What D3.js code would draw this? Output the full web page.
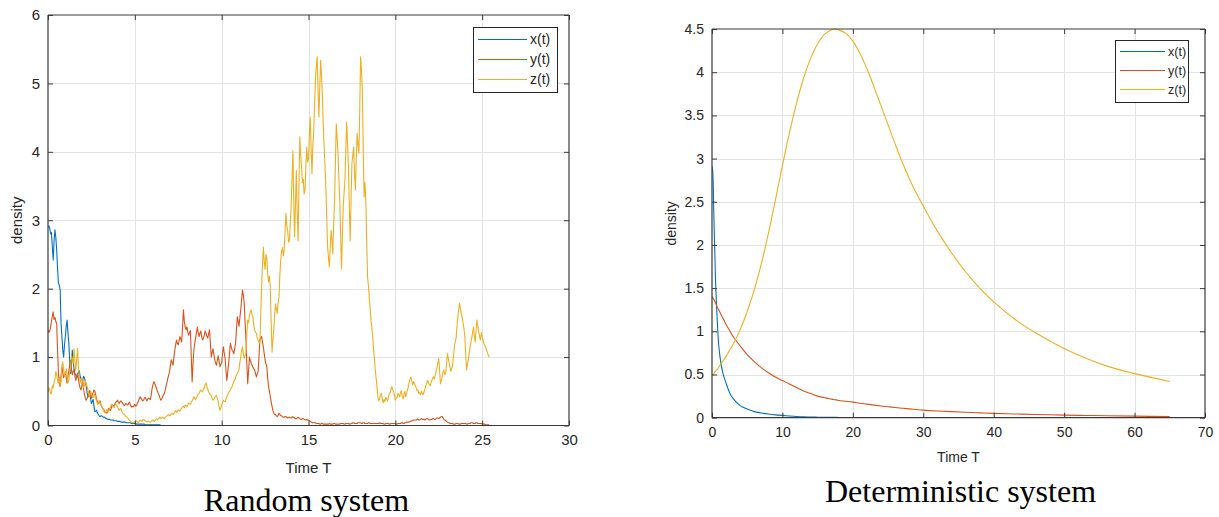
<!DOCTYPE html>
<html>
<head>
<meta charset="utf-8">
<script src="https://cdn.jsdelivr.net/npm/d3@7"></script>
<style>
  html, body { margin: 0; padding: 0; background: #ffffff; }
  svg { display: block; }
</style>
</head>
<body>
<svg id="chart" width="1219" height="517"></svg>
<script>
// ---------- Stochastic run: densities sampled every 0.05 time units (one row per unit) ----------
const randStep = 0.05;
const randX = [
  2.90, 2.92, 2.88, 2.80, 2.82, 2.60, 2.42, 2.70, 2.86, 2.75, 2.57, 2.30, 2.08, 2.05, 1.98, 1.50, 1.30, 1.10, 1.00, 1.18,
  1.30, 1.45, 1.54, 1.35, 1.20, 0.95, 0.76, 0.92, 1.10, 0.95, 0.82, 0.76, 0.74, 0.70, 0.71, 0.78, 0.80, 0.72, 0.68, 0.67,
  0.66, 0.72, 0.70, 0.64, 0.58, 0.48, 0.42, 0.46, 0.50, 0.40, 0.32, 0.35, 0.38, 0.28, 0.20, 0.21, 0.22, 0.18, 0.16, 0.14,
  0.13, 0.14, 0.14, 0.13, 0.12, 0.12, 0.11, 0.10, 0.10, 0.09, 0.09, 0.09, 0.08, 0.08, 0.08, 0.08, 0.07, 0.07, 0.07, 0.07,
  0.06, 0.06, 0.06, 0.06, 0.05, 0.05, 0.05, 0.05, 0.05, 0.05, 0.04, 0.04, 0.04, 0.04, 0.04, 0.04, 0.03, 0.03, 0.03, 0.03,
  0.03, 0.03, 0.02, 0.02, 0.02, 0.02, 0.02, 0.02, 0.02, 0.02, 0.02, 0.02, 0.01, 0.01, 0.01, 0.01, 0.01, 0.01, 0.01, 0.01,
  0.01, 0.01, 0.01, 0.01, 0.01, 0.01, 0.01, 0.01, 0.01, 0.01, 0, 0, 0, 0, 0, 0, 0, 0, 0, 0,
  0, 0, 0, 0, 0, 0, 0, 0, 0, 0, 0, 0, 0, 0, 0, 0, 0, 0, 0, 0,
  0, 0, 0, 0, 0, 0, 0, 0, 0, 0, 0, 0, 0, 0, 0, 0, 0, 0, 0, 0,
  0, 0, 0, 0, 0, 0, 0, 0, 0, 0, 0, 0, 0, 0, 0, 0, 0, 0, 0, 0,
  0, 0, 0, 0, 0, 0, 0, 0, 0, 0, 0, 0, 0, 0, 0, 0, 0, 0, 0, 0,
  0, 0, 0, 0, 0, 0, 0, 0, 0, 0, 0, 0, 0, 0, 0, 0, 0, 0, 0, 0,
  0, 0, 0, 0, 0, 0, 0, 0, 0, 0, 0, 0, 0, 0, 0, 0, 0, 0, 0, 0,
  0, 0, 0, 0, 0, 0, 0, 0, 0, 0, 0, 0, 0, 0, 0, 0, 0, 0, 0, 0,
  0, 0, 0, 0, 0, 0, 0, 0, 0, 0, 0, 0, 0, 0, 0, 0, 0, 0, 0, 0,
  0, 0, 0, 0, 0, 0, 0, 0, 0, 0, 0, 0, 0, 0, 0, 0, 0, 0, 0, 0,
  0, 0, 0, 0, 0, 0, 0, 0, 0, 0, 0, 0, 0, 0, 0, 0, 0, 0, 0, 0,
  0, 0, 0, 0, 0, 0, 0, 0, 0, 0, 0, 0, 0, 0, 0, 0, 0, 0, 0, 0,
  0, 0, 0, 0, 0, 0, 0, 0, 0, 0, 0, 0, 0, 0, 0, 0, 0, 0, 0, 0,
  0, 0, 0, 0, 0, 0, 0, 0, 0, 0, 0, 0, 0, 0, 0, 0, 0, 0, 0, 0,
  0, 0, 0, 0, 0, 0, 0, 0, 0, 0, 0, 0, 0, 0, 0, 0, 0, 0, 0, 0,
  0, 0, 0, 0, 0, 0, 0, 0, 0, 0, 0, 0, 0, 0, 0, 0, 0, 0, 0, 0,
  0, 0, 0, 0, 0, 0, 0, 0, 0, 0, 0, 0, 0, 0, 0, 0, 0, 0, 0, 0,
  0, 0, 0, 0, 0, 0, 0, 0, 0, 0, 0, 0, 0, 0, 0, 0, 0, 0, 0, 0,
  0, 0, 0, 0, 0, 0, 0, 0, 0, 0, 0, 0, 0, 0, 0, 0, 0, 0, 0, 0,
  0, 0, 0, 0, 0, 0, 0, 0, 0
];
const randY = [
  1.40, 1.36, 1.38, 1.45, 1.52, 1.60, 1.66, 1.55, 1.58, 1.52, 1.49, 1.10, 0.76, 0.62, 0.57, 0.72, 0.85, 0.78, 0.70, 0.74,
  0.78, 0.70, 0.62, 0.72, 0.80, 0.88, 0.95, 0.82, 0.74, 0.79, 0.82, 0.72, 0.66, 0.71, 0.76, 0.68, 0.60, 0.55, 0.52, 0.58,
  0.66, 0.54, 0.45, 0.40, 0.37, 0.40, 0.42, 0.47, 0.51, 0.44, 0.40, 0.45, 0.48, 0.52, 0.50, 0.44, 0.38, 0.35, 0.32, 0.34,
  0.36, 0.30, 0.27, 0.25, 0.24, 0.21, 0.20, 0.19, 0.18, 0.22, 0.25, 0.23, 0.22, 0.26, 0.30, 0.29, 0.28, 0.31, 0.34, 0.35,
  0.37, 0.34, 0.32, 0.35, 0.36, 0.34, 0.33, 0.30, 0.29, 0.31, 0.32, 0.31, 0.30, 0.33, 0.34, 0.30, 0.27, 0.28, 0.27, 0.29,
  0.31, 0.28, 0.29, 0.33, 0.35, 0.39, 0.42, 0.40, 0.38, 0.36, 0.37, 0.40, 0.41, 0.38, 0.36, 0.39, 0.40, 0.39, 0.38, 0.46,
  0.55, 0.60, 0.64, 0.61, 0.58, 0.54, 0.50, 0.47, 0.44, 0.40, 0.37, 0.39, 0.42, 0.45, 0.47, 0.52, 0.58, 0.63, 0.69, 0.74,
  0.78, 0.88, 0.96, 0.92, 0.88, 1.00, 1.10, 1.18, 1.25, 1.20, 1.18, 1.24, 1.30, 1.26, 1.22, 1.45, 1.69, 1.52, 1.44, 1.40,
  1.44, 1.36, 1.32, 1.36, 1.39, 1.00, 0.64, 0.90, 1.10, 1.20, 1.28, 1.36, 1.44, 1.36, 1.30, 1.35, 1.38, 1.30, 1.25, 1.28,
  1.32, 1.38, 1.35, 1.30, 1.28, 1.34, 1.40, 1.20, 1.00, 1.06, 1.12, 1.04, 0.96, 0.92, 0.88, 0.95, 1.02, 0.94, 0.86, 0.89,
  0.92, 1.05, 1.15, 1.06, 0.98, 0.80, 0.66, 0.78, 0.90, 1.05, 1.20, 1.15, 1.10, 1.08, 1.05, 1.12, 1.20, 1.40, 1.59, 1.52,
  1.45, 1.58, 1.69, 1.85, 1.98, 1.90, 1.78, 1.50, 1.25, 0.90, 0.61, 0.80, 1.00, 0.95, 0.91, 0.88, 0.85, 0.83, 0.81, 0.76,
  0.71, 0.75, 0.79, 1.02, 1.25, 1.28, 1.30, 1.22, 1.15, 1.05, 0.96, 0.90, 0.86, 0.70, 0.57, 0.50, 0.42, 0.35, 0.28, 0.22,
  0.18, 0.16, 0.16, 0.14, 0.13, 0.15, 0.18, 0.16, 0.15, 0.14, 0.13, 0.12, 0.12, 0.13, 0.13, 0.12, 0.11, 0.12, 0.12, 0.11,
  0.11, 0.12, 0.13, 0.12, 0.11, 0.10, 0.10, 0.11, 0.12, 0.11, 0.10, 0.09, 0.09, 0.10, 0.10, 0.09, 0.08, 0.08, 0.09, 0.08,
  0.08, 0.07, 0.06, 0.05, 0.05, 0.04, 0.04, 0.04, 0.04, 0.03, 0.03, 0.03, 0.03, 0.02, 0.02, 0.03, 0.03, 0.02, 0.02, 0.02,
  0.02, 0.02, 0.02, 0.02, 0.03, 0.02, 0.02, 0.02, 0.02, 0.03, 0.03, 0.02, 0.02, 0.02, 0.02, 0.02, 0.02, 0.03, 0.03, 0.03,
  0.03, 0.02, 0.02, 0.03, 0.03, 0.03, 0.03, 0.02, 0.02, 0.03, 0.03, 0.04, 0.04, 0.03, 0.03, 0.03, 0.03, 0.04, 0.04, 0.04,
  0.04, 0.03, 0.03, 0.04, 0.04, 0.03, 0.03, 0.03, 0.03, 0.04, 0.04, 0.03, 0.03, 0.03, 0.03, 0.03, 0.03, 0.03, 0.03, 0.03,
  0.03, 0.03, 0.04, 0.03, 0.03, 0.03, 0.03, 0.02, 0.02, 0.03, 0.03, 0.03, 0.03, 0.02, 0.02, 0.03, 0.03, 0.03, 0.03, 0.03,
  0.03, 0.02, 0.02, 0.03, 0.03, 0.03, 0.03, 0.04, 0.04, 0.03, 0.03, 0.04, 0.04, 0.05, 0.05, 0.05, 0.05, 0.06, 0.06, 0.07,
  0.07, 0.08, 0.08, 0.08, 0.08, 0.09, 0.09, 0.08, 0.08, 0.09, 0.10, 0.09, 0.09, 0.09, 0.08, 0.09, 0.10, 0.10, 0.09, 0.08,
  0.08, 0.09, 0.09, 0.10, 0.10, 0.09, 0.09, 0.10, 0.11, 0.11, 0.10, 0.11, 0.12, 0.13, 0.13, 0.11, 0.09, 0.08, 0.07, 0.06,
  0.05, 0.04, 0.04, 0.03, 0.03, 0.03, 0.03, 0.02, 0.02, 0.02, 0.03, 0.03, 0.03, 0.02, 0.02, 0.02, 0.03, 0.03, 0.03, 0.03,
  0.03, 0.03, 0.02, 0.02, 0.03, 0.03, 0.03, 0.04, 0.04, 0.04, 0.03, 0.03, 0.03, 0.04, 0.04, 0.03, 0.03, 0.03, 0.03, 0.03,
  0.02, 0.02, 0.02, 0.02, 0.01, 0.01, 0.01, 0.01, 0.01
];
const randZ = [
  0.49, 0.55, 0.52, 0.46, 0.47, 0.58, 0.55, 0.63, 0.68, 0.79, 0.74, 0.66, 0.62, 0.71, 0.58, 0.64, 0.88, 0.93, 0.82, 0.72,
  0.76, 0.83, 0.70, 0.62, 0.66, 0.78, 0.85, 1.02, 0.98, 0.90, 1.12, 0.95, 0.80, 0.96, 1.13, 0.88, 0.71, 0.66, 0.62, 0.70,
  0.64, 0.55, 0.58, 0.66, 0.62, 0.57, 0.52, 0.46, 0.42, 0.50, 0.47, 0.43, 0.40, 0.46, 0.44, 0.39, 0.36, 0.31, 0.33, 0.36,
  0.32, 0.30, 0.28, 0.25, 0.22, 0.19, 0.18, 0.22, 0.24, 0.20, 0.21, 0.25, 0.27, 0.31, 0.30, 0.27, 0.26, 0.29, 0.32, 0.30,
  0.28, 0.25, 0.22, 0.24, 0.25, 0.21, 0.18, 0.17, 0.16, 0.14, 0.13, 0.12, 0.11, 0.09, 0.08, 0.06, 0.05, 0.04, 0.04, 0.05,
  0.05, 0.06, 0.07, 0.05, 0.04, 0.06, 0.08, 0.07, 0.06, 0.08, 0.09, 0.08, 0.07, 0.06, 0.05, 0.06, 0.06, 0.05, 0.05, 0.06,
  0.07, 0.08, 0.06, 0.07, 0.09, 0.10, 0.08, 0.10, 0.11, 0.12, 0.10, 0.11, 0.12, 0.11, 0.10, 0.12, 0.13, 0.14, 0.15, 0.16,
  0.14, 0.15, 0.17, 0.18, 0.16, 0.18, 0.20, 0.22, 0.19, 0.21, 0.23, 0.22, 0.21, 0.24, 0.25, 0.27, 0.28, 0.26, 0.30, 0.29,
  0.27, 0.30, 0.33, 0.32, 0.31, 0.34, 0.36, 0.39, 0.42, 0.40, 0.38, 0.41, 0.43, 0.46, 0.47, 0.50, 0.52, 0.50, 0.49, 0.53,
  0.55, 0.60, 0.62, 0.57, 0.53, 0.49, 0.47, 0.45, 0.44, 0.40, 0.37, 0.39, 0.40, 0.43, 0.44, 0.40, 0.36, 0.28, 0.22, 0.26,
  0.30, 0.34, 0.37, 0.35, 0.35, 0.39, 0.42, 0.45, 0.48, 0.50, 0.52, 0.55, 0.57, 0.61, 0.64, 0.67, 0.70, 0.74, 0.76, 0.79,
  0.82, 0.93, 1.00, 1.10, 1.15, 1.04, 0.98, 1.02, 1.06, 1.35, 1.54, 1.50, 1.61, 1.66, 1.69, 1.62, 1.58, 1.46, 1.39, 1.36,
  1.35, 1.28, 1.25, 1.22, 1.20, 1.62, 2.03, 2.35, 2.61, 2.40, 2.28, 2.50, 2.45, 2.22, 2.10, 2.18, 2.03, 1.50, 1.07, 1.25,
  1.40, 1.62, 1.78, 1.70, 1.64, 1.80, 1.88, 2.20, 2.42, 2.55, 2.60, 2.48, 2.55, 2.85, 3.10, 2.92, 2.85, 2.68, 2.70, 2.95,
  3.20, 3.60, 4.02, 3.30, 2.76, 3.25, 3.73, 3.10, 2.70, 3.50, 4.22, 3.95, 3.78, 3.55, 3.60, 3.38, 3.44, 3.80, 4.07, 3.85,
  3.90, 4.25, 4.51, 4.05, 3.68, 4.10, 4.30, 4.70, 5.05, 5.25, 5.39, 4.90, 4.51, 4.95, 5.34, 5.10, 4.83, 4.40, 4.07, 3.80,
  3.49, 3.05, 2.61, 2.45, 2.32, 2.60, 2.85, 2.70, 2.51, 2.95, 3.29, 3.85, 4.41, 4.20, 3.98, 3.60, 3.29, 2.80, 2.29, 2.75,
  3.20, 3.40, 3.59, 4.05, 4.44, 4.10, 3.78, 3.20, 2.70, 3.30, 3.83, 3.95, 4.07, 3.70, 3.44, 3.90, 4.27, 4.10, 3.98, 4.60,
  5.39, 5.20, 4.90, 4.10, 3.34, 3.55, 3.29, 2.70, 2.17, 2.05, 1.88, 1.70, 1.54, 1.42, 1.30, 1.10, 0.96, 0.80, 0.68, 0.55,
  0.42, 0.36, 0.40, 0.45, 0.47, 0.39, 0.33, 0.38, 0.35, 0.41, 0.39, 0.36, 0.42, 0.46, 0.48, 0.53, 0.57, 0.52, 0.50, 0.44,
  0.37, 0.40, 0.41, 0.47, 0.45, 0.42, 0.48, 0.51, 0.42, 0.39, 0.46, 0.50, 0.42, 0.47, 0.52, 0.57, 0.63, 0.68, 0.71, 0.65,
  0.59, 0.64, 0.62, 0.58, 0.55, 0.51, 0.52, 0.47, 0.48, 0.45, 0.50, 0.47, 0.45, 0.49, 0.53, 0.58, 0.61, 0.66, 0.64, 0.60,
  0.58, 0.62, 0.66, 0.69, 0.71, 0.68, 0.74, 0.79, 0.85, 0.92, 0.98, 0.80, 0.61, 0.66, 0.72, 0.78, 0.81, 0.75, 0.76, 0.90,
  1.05, 0.98, 0.92, 0.85, 0.79, 0.84, 0.88, 1.02, 1.15, 1.22, 1.28, 1.45, 1.59, 1.70, 1.79, 1.70, 1.64, 1.58, 1.50, 1.42,
  1.30, 1.05, 0.81, 0.90, 0.95, 1.05, 1.15, 1.22, 1.28, 1.36, 1.44, 1.30, 1.22, 1.40, 1.54, 1.45, 1.38, 1.30, 1.25, 1.36,
  1.30, 1.25, 1.20, 1.17, 1.14, 1.10, 1.07, 1.03, 1.00
];

// ---------- Deterministic run: densities at the listed times ----------
const detTime = [
  0, 0.1, 0.25, 0.5, 0.75, 1, 1.5, 2, 2.5, 3,
  4, 5, 6, 7, 8, 9, 10, 11, 12, 13,
  14, 15, 16, 17, 17.5, 18, 19, 20, 21, 22,
  23, 24, 25, 26, 27, 28, 29, 30, 32, 34,
  36, 38, 40, 43, 46, 50, 53, 56, 60, 65
];
const detX = [
  2.91, 2.86, 2.40, 1.60, 1.12, 0.80, 0.53, 0.40, 0.29, 0.22,
  0.14, 0.10, 0.07, 0.055, 0.042, 0.033, 0.027, 0.020, 0.014, 0.010,
  0.008, 0.006, 0.005, 0.004, 0.004, 0.003, 0.003, 0.002, 0.002, 0.002,
  0.001, 0.001, 0.001, 0, 0, 0, 0, 0, 0, 0,
  0, 0, 0, 0, 0, 0, 0, 0, 0, 0
];
const detY = [
  1.41, 1.39, 1.37, 1.33, 1.28, 1.24, 1.16, 1.08, 1.01, 0.94,
  0.83, 0.73, 0.65, 0.58, 0.52, 0.47, 0.43, 0.39, 0.35, 0.31,
  0.28, 0.25, 0.23, 0.215, 0.207, 0.20, 0.19, 0.18, 0.168, 0.157,
  0.146, 0.136, 0.127, 0.118, 0.110, 0.102, 0.095, 0.088, 0.078, 0.070,
  0.063, 0.056, 0.050, 0.043, 0.037, 0.030, 0.026, 0.022, 0.018, 0.013
];
const detZ = [
  0.49, 0.50, 0.51, 0.54, 0.56, 0.59, 0.65, 0.71, 0.78, 0.85,
  1.02, 1.23, 1.48, 1.78, 2.13, 2.52, 2.92, 3.30, 3.64, 3.93,
  4.16, 4.33, 4.44, 4.49, 4.50, 4.49, 4.45, 4.36, 4.22, 4.04,
  3.83, 3.61, 3.39, 3.17, 2.96, 2.77, 2.60, 2.45, 2.16, 1.91,
  1.69, 1.50, 1.34, 1.14, 0.98, 0.80, 0.69, 0.60, 0.51, 0.42
];

// ---------- Labels and ticks ----------
const seriesNames = ["x(t)", "y(t)", "z(t)"];
const seriesColors = ["#0072BD", "#D95319", "#EDB120"];
const randXTicks = [0, 5, 10, 15, 20, 25, 30];
const randYTicks = [0, 1, 2, 3, 4, 5, 6];
const detXTicks = [0, 10, 20, 30, 40, 50, 60, 70];
const detYTicks = [0, 0.5, 1, 1.5, 2, 2.5, 3, 3.5, 4, 4.5];
const xTitle = "Time T";
const yTitle = "density";
const captions = ["Random system", "Deterministic system"];

const svg = d3.select("#chart");
const sansFont = "'Liberation Sans', Arial, Helvetica, sans-serif";
const serifFont = "'Liberation Serif', 'Times New Roman', serif";

function drawPanel(cfg) {
  const { id, left, right, top, bottom, xDomain, yDomain, xTicks, yTicks,
          series, legendBox, curve, tickFont, legendFont, yTitleX, xTitleY,
          caption, captionY } = cfg;
  const x = d3.scaleLinear().domain(xDomain).range([left, right]);
  const y = d3.scaleLinear().domain(yDomain).range([bottom, top]);
  const g = svg.append("g");

  // grid
  const grid = g.append("g").attr("stroke", "#e3e3e3").attr("stroke-width", 1);
  xTicks.forEach(t => {
    if (t === xDomain[0] || t === xDomain[1]) return;
    grid.append("line").attr("x1", Math.round(x(t)) + 0.5).attr("x2", Math.round(x(t)) + 0.5)
      .attr("y1", top).attr("y2", bottom);
  });
  yTicks.forEach(t => {
    if (t === yDomain[0] || t === yDomain[1]) return;
    grid.append("line").attr("y1", Math.round(y(t)) + 0.5).attr("y2", Math.round(y(t)) + 0.5)
      .attr("x1", left).attr("x2", right);
  });

  // data lines
  svg.append("clipPath").attr("id", id + "-clip")
    .append("rect").attr("x", left).attr("y", top - 1)
    .attr("width", right - left).attr("height", bottom - top + 1);
  const lines = g.append("g").attr("clip-path", `url(#${id}-clip)`);
  series.forEach((s, i) => {
    const line = d3.line().x(d => x(d[0])).y(d => y(d[1])).curve(curve);
    lines.append("path")
      .attr("d", line(s))
      .attr("fill", "none")
      .attr("stroke", seriesColors[i])
      .attr("stroke-width", 1.1)
      .attr("stroke-linejoin", "round");
  });

  // axes: bottom/left with labels, top/right as mirrored box, ticks pointing in
  const tl = 5;
  const axB = d3.axisBottom(x).tickValues(xTicks).tickSize(-tl).tickPadding(9).tickFormat(d => d);
  const axL = d3.axisLeft(y).tickValues(yTicks).tickSize(-tl).tickPadding(8).tickFormat(d => d);
  const axT = d3.axisTop(x).tickValues(xTicks).tickSize(-tl).tickFormat("");
  const axR = d3.axisRight(y).tickValues(yTicks).tickSize(-tl).tickFormat("");
  const styleAxis = sel => {
    sel.select(".domain").attr("stroke", "#3a3a3a").attr("stroke-width", 1.2);
    sel.selectAll(".tick line").attr("stroke", "#3a3a3a").attr("stroke-width", 1);
    sel.selectAll(".tick text").attr("fill", "#262626")
      .style("font-family", sansFont).style("font-size", tickFont + "px");
  };
  g.append("g").attr("transform", `translate(0,${bottom})`).call(axB).call(styleAxis)
    .call(s => s.select(".domain").attr("d", `M${left},0H${right}`));
  g.append("g").attr("transform", `translate(${left},0)`).call(axL).call(styleAxis)
    .call(s => s.select(".domain").attr("d", `M0,${top}V${bottom}`));
  g.append("g").attr("transform", `translate(0,${top})`).call(axT).call(styleAxis)
    .call(s => s.select(".domain").attr("d", `M${left},0H${right}`));
  g.append("g").attr("transform", `translate(${right},0)`).call(axR).call(styleAxis)
    .call(s => s.select(".domain").attr("d", `M0,${top}V${bottom}`));

  // axis titles
  g.append("text").attr("x", (left + right) / 2).attr("y", xTitleY)
    .attr("text-anchor", "middle").attr("fill", "#262626")
    .style("font-family", sansFont).style("font-size", tickFont + "px").text(xTitle);
  g.append("text").attr("transform", `translate(${yTitleX},${(top + bottom) / 2}) rotate(-90)`)
    .attr("text-anchor", "middle").attr("fill", "#262626")
    .style("font-family", sansFont).style("font-size", tickFont + "px").text(yTitle);

  // legend
  const lb = legendBox;
  const lg = g.append("g");
  lg.append("rect").attr("x", lb.x + 0.5).attr("y", lb.y + 0.5).attr("width", lb.w).attr("height", lb.h)
    .attr("fill", "#ffffff").attr("stroke", "#262626").attr("stroke-width", 1);
  seriesNames.forEach((name, i) => {
    const ly = lb.y + lb.rowStart + i * lb.rowGap;
    lg.append("line").attr("x1", lb.x + lb.lineX0).attr("x2", lb.x + lb.lineX1)
      .attr("y1", ly).attr("y2", ly).attr("stroke", seriesColors[i]).attr("stroke-width", 1.1);
    lg.append("text").attr("x", lb.x + lb.textX).attr("y", ly).attr("dy", "0.35em")
      .attr("fill", "#262626").style("font-family", sansFont)
      .style("font-size", legendFont + "px").text(name);
  });

  // caption
  svg.append("text").attr("x", (left + right) / 2 + cfg.captionDx).attr("y", captionY)
    .attr("text-anchor", "middle").attr("fill", "#000000")
    .style("font-family", serifFont).style("font-size", "32px").text(caption);
}

const randT = randZ.map((_, i) => i * randStep);
drawPanel({
  id: "rand", left: 48, right: 569, top: 15, bottom: 425.5,
  xDomain: [0, 30], yDomain: [0, 6], xTicks: randXTicks, yTicks: randYTicks,
  series: [randX, randY, randZ].map(vals => vals.map((v, i) => [randT[i], v])),
  curve: d3.curveLinear,
  legendBox: { x: 473, y: 27, w: 84, h: 65, rowStart: 12.5, rowGap: 20, lineX0: 5, lineX1: 54, textX: 57 },
  tickFont: 15, legendFont: 14, yTitleX: 22, xTitleY: 473,
  caption: captions[0], captionY: 511, captionDx: -2
});
drawPanel({
  id: "det", left: 712, right: 1205, top: 29, bottom: 417.7,
  xDomain: [0, 70], yDomain: [0, 4.5], xTicks: detXTicks, yTicks: detYTicks,
  series: [detX, detY, detZ].map(vals => vals.map((v, i) => [detTime[i], v])),
  curve: d3.curveCatmullRom.alpha(0.5),
  legendBox: { x: 1115, y: 40, w: 73, h: 62, rowStart: 11.5, rowGap: 19, lineX0: 5, lineX1: 50, textX: 53 },
  tickFont: 14, legendFont: 12.5, yTitleX: 676, xTitleY: 462,
  caption: captions[1], captionY: 502, captionDx: 2
});
</script>
</body>
</html>
